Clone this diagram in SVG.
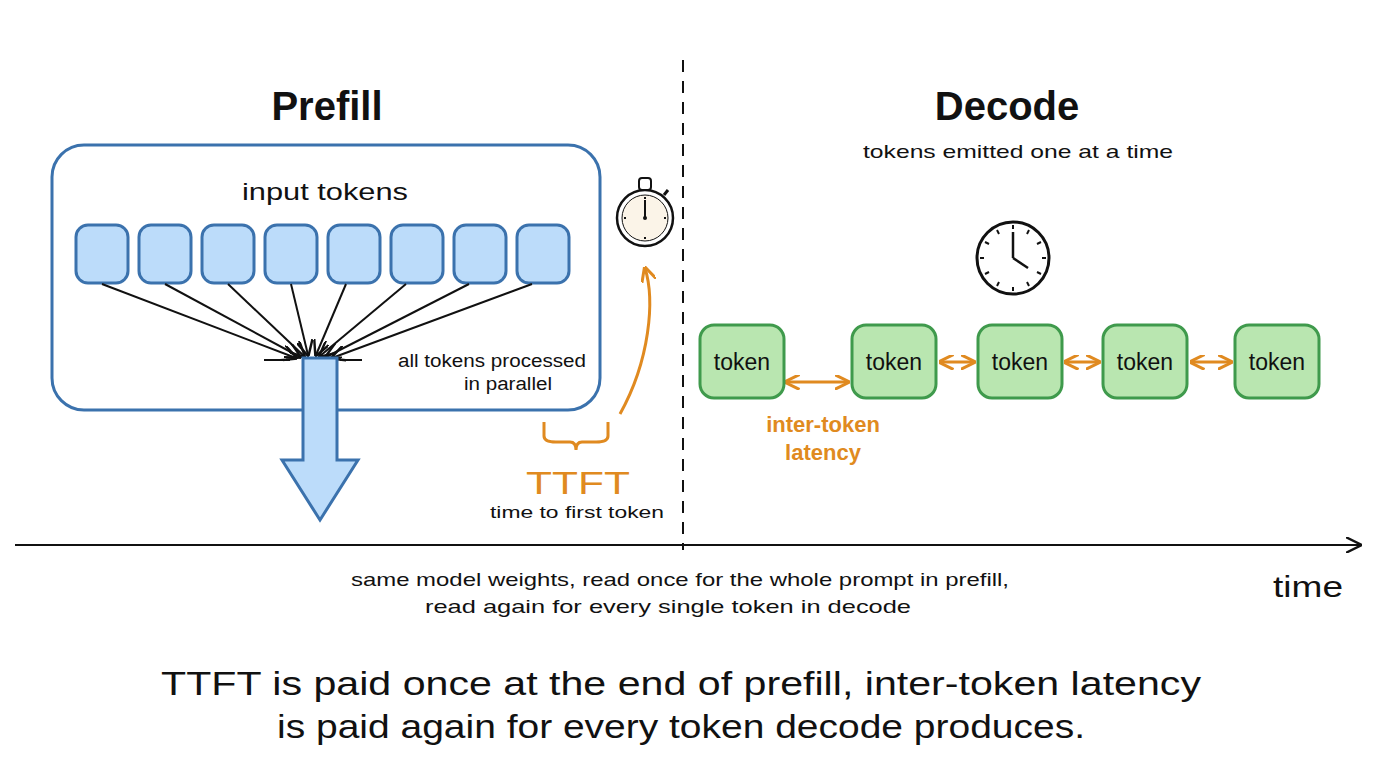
<svg xmlns="http://www.w3.org/2000/svg" width="1376" height="768" viewBox="0 0 1376 768">
<defs>
<style>
.h{font-family:"Liberation Sans",Arial,sans-serif;font-weight:bold;fill:#111}
.t{font-family:"Liberation Sans",Arial,sans-serif;fill:#111}
.o{font-family:"Liberation Sans",Arial,sans-serif;fill:#e08a20;font-weight:bold}
.in{fill:#bcdcfa;stroke:#3b72ad;stroke-width:3}
.tk{fill:#b9e6b0;stroke:#3f9a4c;stroke-width:3}
.ln{stroke:#111;stroke-width:2;fill:none}
.or{stroke:#e08a20;stroke-width:3;fill:none}
.tick{stroke:#111;stroke-width:2}
</style>
<marker id="ah" viewBox="0 0 10 10" refX="9" refY="5" markerWidth="8" markerHeight="8" orient="auto-start-reverse"><path d="M0,0L10,5L0,10" fill="none" stroke="#111" stroke-width="1.5"/></marker>
<marker id="oh" viewBox="0 0 10 10" refX="9" refY="5" markerWidth="5" markerHeight="5" orient="auto-start-reverse"><path d="M0,0L10,5L0,10" fill="none" stroke="#e08a20" stroke-width="2"/></marker>
</defs>
<rect width="1376" height="768" fill="#fff"/>
<text class="h" x="327" y="120" font-size="40" text-anchor="middle">Prefill</text>
<text class="h" x="1007" y="120" font-size="40" text-anchor="middle">Decode</text>
<text class="t" x="1018" y="158" font-size="19" text-anchor="middle" textLength="310" lengthAdjust="spacingAndGlyphs">tokens emitted one at a time</text>
<g id="prefill-box"><rect x="52" y="145" width="548" height="265" rx="32" fill="none" stroke="#3b72ad" stroke-width="3"/>
<text class="t" x="325" y="200" font-size="24" text-anchor="middle" textLength="166" lengthAdjust="spacingAndGlyphs">input tokens</text></g>
<g id="input-tokens">
<rect class="in" x="76" y="225" width="52" height="58" rx="12"/>
<rect class="in" x="139" y="225" width="52" height="58" rx="12"/>
<rect class="in" x="202" y="225" width="52" height="58" rx="12"/>
<rect class="in" x="265" y="225" width="52" height="58" rx="12"/>
<rect class="in" x="328" y="225" width="52" height="58" rx="12"/>
<rect class="in" x="391" y="225" width="52" height="58" rx="12"/>
<rect class="in" x="454" y="225" width="52" height="58" rx="12"/>
<rect class="in" x="517" y="225" width="52" height="58" rx="12"/>
</g>
<g id="connectors">
<line class="ln" x1="102" y1="284" x2="296" y2="358" marker-end="url(#ah)"/>
<line class="ln" x1="165" y1="284" x2="300" y2="357" marker-end="url(#ah)"/>
<line class="ln" x1="228" y1="284" x2="304" y2="356" marker-end="url(#ah)"/>
<line class="ln" x1="291" y1="284" x2="308" y2="355" marker-end="url(#ah)"/>
<line class="ln" x1="346" y1="284" x2="316" y2="355" marker-end="url(#ah)"/>
<line class="ln" x1="406" y1="284" x2="320" y2="356" marker-end="url(#ah)"/>
<line class="ln" x1="469" y1="284" x2="326" y2="357" marker-end="url(#ah)"/>
<line class="ln" x1="532" y1="284" x2="332" y2="358" marker-end="url(#ah)"/>
<line class="ln" x1="264" y1="360" x2="290" y2="360"/>
<line class="ln" x1="340" y1="360" x2="362" y2="360"/>
<path class="or" d="M620,414 C650,360 655,300 645,268" marker-end="url(#oh)"/>
<line class="or" x1="786" y1="382" x2="848" y2="382" marker-start="url(#oh)" marker-end="url(#oh)"/>
<line class="or" x1="940" y1="362" x2="974" y2="362" marker-start="url(#oh)" marker-end="url(#oh)"/>
<line class="or" x1="1065" y1="362" x2="1099" y2="362" marker-start="url(#oh)" marker-end="url(#oh)"/>
<line class="or" x1="1191" y1="362" x2="1231" y2="362" marker-start="url(#oh)" marker-end="url(#oh)"/>
<line x1="683" y1="60" x2="683" y2="550" stroke="#111" stroke-width="2" stroke-dasharray="12,9"/>
<line x1="15" y1="545" x2="1360" y2="545" stroke="#111" stroke-width="2" marker-end="url(#ah)"/>
</g>
<g id="down-arrow"><path d="M303,358 H337 V460 H358 L320,520 L282,460 H303 Z" fill="#bcdcfa" stroke="#3b72ad" stroke-width="3"/></g>
<text class="t" x="492" y="367" font-size="18" text-anchor="middle" textLength="188" lengthAdjust="spacingAndGlyphs">all tokens processed</text>
<text class="t" x="508" y="390" font-size="18" text-anchor="middle" textLength="88" lengthAdjust="spacingAndGlyphs">in parallel</text>
<g id="ttft"><path class="or" d="M544,422 V436 Q544,442 556,442 H570 Q576,442 576,450 Q576,442 582,442 H596 Q608,442 608,436 V422"/>
<text x="578" y="494" font-size="32" text-anchor="middle" font-family="Liberation Sans,Arial,sans-serif" fill="#e08a20" textLength="104" lengthAdjust="spacingAndGlyphs">TTFT</text>
<text class="t" x="577" y="518" font-size="17" text-anchor="middle" textLength="174" lengthAdjust="spacingAndGlyphs">time to first token</text></g>
<g id="stopwatch"><circle cx="645" cy="218" r="28" fill="#fff" stroke="#111" stroke-width="2.5"/><circle cx="645" cy="218" r="23" fill="#fbf4e8" stroke="#111" stroke-width="1"/>
<rect x="639" y="178" width="12" height="12" rx="3" fill="#fff" stroke="#111" stroke-width="2"/><line x1="645" y1="218" x2="645" y2="200" stroke="#111" stroke-width="2"/><circle cx="645" cy="218" r="2" fill="#111"/><line x1="664" y1="195" x2="668" y2="190" stroke="#111" stroke-width="3"/>
<g class="tick"><line x1="645" y1="197" x2="645" y2="199"/><line x1="666" y1="218" x2="664" y2="218"/><line x1="645" y1="239" x2="645" y2="237"/><line x1="624" y1="218" x2="626" y2="218"/></g></g>
<g id="clock"><circle cx="1013" cy="258" r="36" fill="#fff" stroke="#111" stroke-width="3"/><line x1="1013" y1="258" x2="1013" y2="232" stroke="#111" stroke-width="2.5"/><line x1="1013" y1="258" x2="1028" y2="268" stroke="#111" stroke-width="2.5"/>
<g class="tick"><line x1="1013" y1="225" x2="1013" y2="229"/><line x1="1046" y1="258" x2="1042" y2="258"/><line x1="1013" y1="291" x2="1013" y2="287"/><line x1="980" y1="258" x2="984" y2="258"/><line x1="1029" y1="230" x2="1027" y2="234"/><line x1="1041" y1="242" x2="1037" y2="244"/><line x1="1041" y1="274" x2="1037" y2="272"/><line x1="1029" y1="286" x2="1027" y2="282"/><line x1="997" y1="286" x2="999" y2="282"/><line x1="985" y1="274" x2="989" y2="272"/><line x1="985" y1="242" x2="989" y2="244"/><line x1="997" y1="230" x2="999" y2="234"/></g></g>
<g id="decode-tokens">
<rect class="tk" x="700" y="325" width="84" height="73" rx="14"/><text class="t" x="742" y="370" font-size="23" text-anchor="middle">token</text>
<rect class="tk" x="852" y="325" width="84" height="73" rx="14"/><text class="t" x="894" y="370" font-size="23" text-anchor="middle">token</text>
<rect class="tk" x="978" y="325" width="84" height="73" rx="14"/><text class="t" x="1020" y="370" font-size="23" text-anchor="middle">token</text>
<rect class="tk" x="1103" y="325" width="84" height="73" rx="14"/><text class="t" x="1145" y="370" font-size="23" text-anchor="middle">token</text>
<rect class="tk" x="1235" y="325" width="84" height="73" rx="14"/><text class="t" x="1277" y="370" font-size="23" text-anchor="middle">token</text>
</g>
<text class="o" x="823" y="432" font-size="22" text-anchor="middle">inter-token</text>
<text class="o" x="823" y="460" font-size="22" text-anchor="middle">latency</text>
<text class="t" x="680" y="586" font-size="19" text-anchor="middle" textLength="658" lengthAdjust="spacingAndGlyphs">same model weights, read once for the whole prompt in prefill,</text>
<text class="t" x="668" y="613" font-size="19" text-anchor="middle" textLength="486" lengthAdjust="spacingAndGlyphs">read again for every single token in decode</text>
<text class="t" x="1308" y="597" font-size="30" text-anchor="middle" textLength="70" lengthAdjust="spacingAndGlyphs">time</text>
<text class="t" x="681" y="695" font-size="34" text-anchor="middle" textLength="1040" lengthAdjust="spacingAndGlyphs">TTFT is paid once at the end of prefill, inter-token latency</text>
<text class="t" x="681" y="738" font-size="34" text-anchor="middle" textLength="808" lengthAdjust="spacingAndGlyphs">is paid again for every token decode produces.</text>
</svg>
